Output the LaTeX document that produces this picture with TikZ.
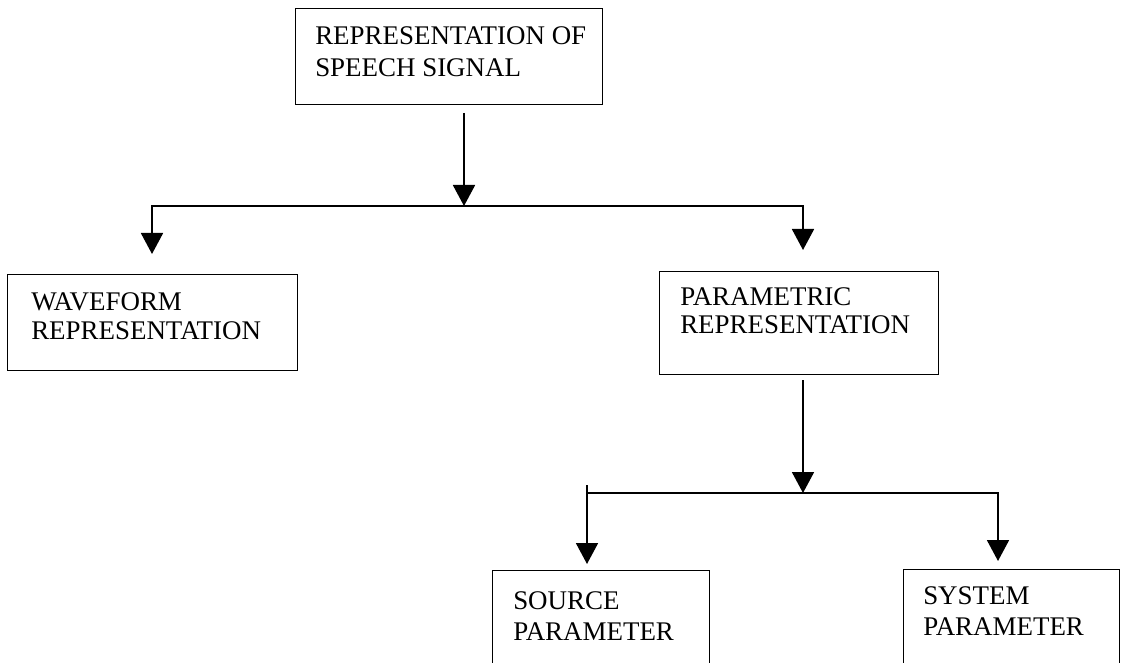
\documentclass[tikz,border=0pt]{standalone}
\usepackage{fontspec}
\setmainfont{Liberation Serif}
\usetikzlibrary{arrows.meta}
\begin{document}
\begin{tikzpicture}[x=0.75pt,y=-0.75pt,
  box/.style={draw,line width=1.1pt,anchor=north west,inner sep=0pt},
  label/.style={anchor=north west,inner sep=0pt,align=left,
    font=\fontsize{20.2}{#1}\selectfont},
  label/.default=23.5,
  wire/.style={line width=1.4pt},
  arr/.style={wire,-{Triangle[width=16.5pt,length=15.75pt]}}]
\useasboundingbox (0,0) rectangle (1122,663);
\clip (0,0) rectangle (1122,663);
% boxes
\node[box,minimum width=230.25pt,minimum height=72pt] (top) at (295,8) {};
\node[box,minimum width=217.5pt,minimum height=72pt] (wave) at (7,274) {};
\node[box,minimum width=209.25pt,minimum height=77.25pt] (param) at (659,271) {};
\node[box,minimum width=162.75pt,minimum height=90pt] (source) at (492,570) {};
\node[box,minimum width=162pt,minimum height=90pt] (system) at (903,569) {};
% box texts
\node[label=24] (ttop) at (315,26) {REPRESENTATION OF\\SPEECH SIGNAL};
\node[label=22.2] (twave) at (31,292) {WAVEFORM\\REPRESENTATION};
\node[label=21.5] (tparam) at (680,287) {PARAMETRIC\\REPRESENTATION};
\node[label=23.2] (tsource) at (513,591) {SOURCE\\PARAMETER};
\node[label=23.2] (tsystem) at (923,586) {SYSTEM\\PARAMETER};
% connector points
\coordinate (s1) at (464,113);
\coordinate (j1) at (464,206);
\coordinate (tw) at (152,254);
\coordinate (tp) at (803,250);
\coordinate (s2) at (803,380);
\coordinate (j2) at (803,493);
\coordinate (st) at (587,485);
\coordinate (ts) at (587,564);
\coordinate (ty) at (998,561);
% first level
\draw[arr] (s1) -- (j1);
\draw[arr] (j1) -| (tw);
\draw[arr] (j1) -| (tp);
% second level
\draw[arr] (s2) -- (j2);
\draw[arr] (j2) -| (ts);
\draw[arr] (j2) -| (ty);
\draw[wire] (st) -- (st |- j2);
\end{tikzpicture}
\end{document}
